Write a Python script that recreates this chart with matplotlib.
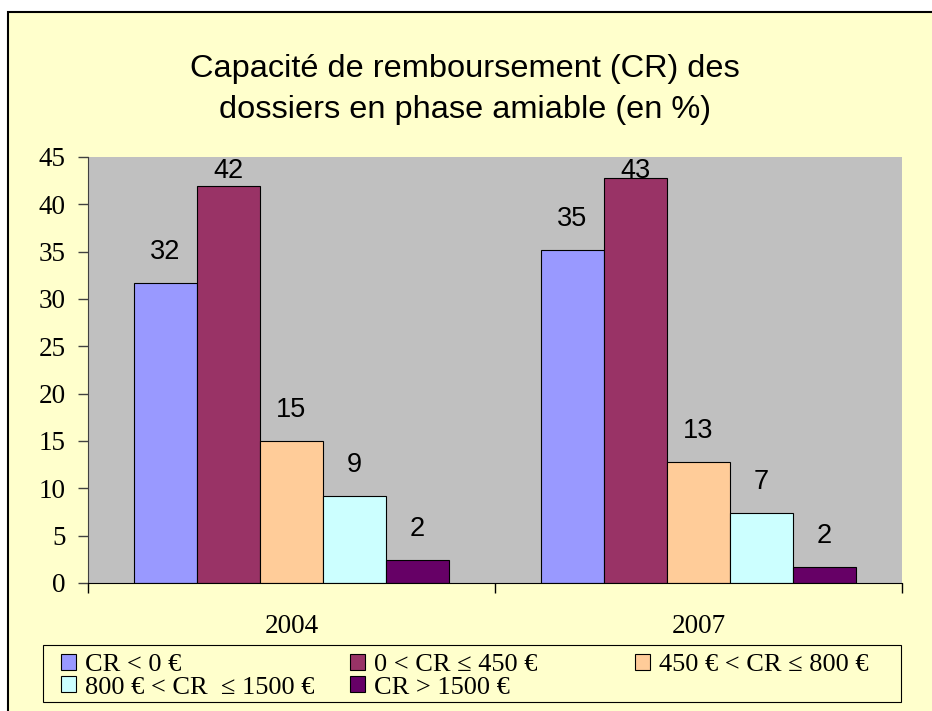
import numpy as np
import matplotlib.pyplot as plt
from matplotlib.patches import Rectangle

# données
annees = ['2004', '2007']
series = ['CR < 0 €', '0 < CR ≤ 450 €', '450 € < CR ≤ 800 €',
          '800 € < CR  ≤ 1500 €', 'CR > 1500 €']
v_2004 = [31.7, 41.9, 15.0, 9.2, 2.4]
v_2007 = [35.2, 42.8, 12.8, 7.4, 1.7]
couleurs = ['#9999FF', '#993366', '#FFCC99', '#CCFFFF', '#660066']

valeurs = np.array([v_2004, v_2007])

fig = plt.figure(figsize=(9.32, 7.11), dpi=100, facecolor='white')
W, H = 932, 711

# cadre jaune du graphique
fig.patches.append(Rectangle((8 / W, -0.05), 1.05, 1 - 12 / H + 0.05,
                             transform=fig.transFigure, facecolor='#FFFFCC',
                             edgecolor='black', linewidth=1.5, zorder=-10))

ax = fig.add_axes([88 / W, 1 - 583 / H, (902 - 88) / W, (583 - 157) / H])
ax.set_facecolor('#C0C0C0')

x = np.arange(len(annees))
largeur = 0.155
n = len(series)
barres = []
for i in range(n):
    pos = x + (i - (n - 1) / 2) * largeur
    b = ax.bar(pos, valeurs[:, i], largeur, color=couleurs[i],
               edgecolor='black', linewidth=0.8, label=series[i])
    barres.append(b)
    for px, v in zip(pos, valeurs[:, i]):
        y = min(v + 3.3, 43.5)
        ax.text(px, y, f'{v:.0f}', ha='center', va='center', fontsize=19.5,
                family='Liberation Sans')

ax.set_xlim(-0.5, 1.5)
ax.set_ylim(0, 45)
ax.set_yticks(np.arange(0, 46, 5))
ax.set_xticks([-0.5, 0.5, 1.5])
ax.set_xticklabels([])
ax.set_xticks(x, minor=True)
ax.set_xticklabels(annees, minor=True)
ax.tick_params(axis='x', which='minor', length=0, pad=22, labelsize=19.5)
ax.tick_params(axis='x', which='major', length=7, direction='out', width=1)
ax.tick_params(axis='y', length=7, direction='out', width=1, pad=9,
               labelsize=19.5, color='#404040')
for lab in ax.get_xticklabels(minor=True) + ax.get_yticklabels():
    lab.set_family('Liberation Serif')

ax.spines['top'].set_visible(False)
ax.spines['right'].set_visible(False)
ax.spines['left'].set_color('#404040')
ax.spines['bottom'].set_color('black')

fig.text(465 / W, 1 - 89.5 / H,
         'Capacité de remboursement (CR) des\ndossiers en phase amiable (en %)',
         ha='center', va='center', fontsize=23.4, family='Liberation Sans',
         linespacing=1.45)

# légende : cadre + trois colonnes de même largeur (remplissage par lignes)
fig.patches.append(Rectangle((43 / W, 1 - 702 / H), (901 - 43) / W, 57 / H,
                             transform=fig.transFigure, facecolor='none',
                             edgecolor='black', linewidth=0.8, zorder=1))
x_cols = [61, 350, 635]
for j, xc in enumerate(x_cols):
    idx = list(range(j, n, 3))
    leg = fig.legend([barres[k] for k in idx], [series[k] for k in idx],
                     loc='upper left', bbox_to_anchor=(xc / W, 1 - 654 / H),
                     frameon=False, prop={'family': 'Liberation Serif', 'size': 19},
                     handlelength=0.55, handleheight=0.55, handletextpad=0.35,
                     borderpad=0, labelspacing=0.0, borderaxespad=0)

fig.savefig('out.png', dpi=100, facecolor='white')
